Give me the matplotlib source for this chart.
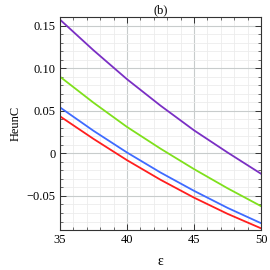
import matplotlib
matplotlib.use("Agg")
import matplotlib.pyplot as plt
from matplotlib.ticker import MultipleLocator, FixedLocator, FixedFormatter

# 読み取った値
eps = [35, 37.5, 40, 42.5, 45, 47.5, 50]
purple = [0.157, 0.121, 0.087, 0.056, 0.027, 0.001, -0.024]
green = [0.090, 0.0595, 0.031, 0.0055, -0.0185, -0.041, -0.062]
blue = [0.054, 0.0265, 0.001, -0.0225, -0.044, -0.064, -0.082]
red = [0.0435, 0.0170, -0.008, -0.031, -0.052, -0.071, -0.088]

yticks = [-0.05, 0, 0.05, 0.10, 0.15]
yticklabels = ["\u22120.05", "0", "0.05", "0.10", "0.15"]
xticks = [35, 40, 45, 50]

plt.rcParams['font.family'] = ['Liberation Serif', 'DejaVu Serif']
plt.rcParams['font.size'] = 9

fig = plt.figure(figsize=(2.7, 2.7), dpi=100)
ax = fig.add_axes([0.222, 0.148, 0.745, 0.789])

ax.plot(eps, purple, color='#7a2fc4', lw=1.3)
ax.plot(eps, green, color='#7fe01c', lw=1.3)
ax.plot(eps, blue, color='#3f6bff', lw=1.3)
ax.plot(eps, red, color='#ff1e1e', lw=1.3)

ax.set_xlim(35, 50)
ax.set_ylim(-0.09, 0.16)

ax.xaxis.set_major_locator(FixedLocator(xticks))
ax.xaxis.set_minor_locator(MultipleLocator(1))
ax.yaxis.set_major_locator(FixedLocator(yticks))
ax.yaxis.set_major_formatter(FixedFormatter(yticklabels))
ax.yaxis.set_minor_locator(MultipleLocator(0.01))

ax.grid(which='major', color='#c8cccc', lw=0.8)
ax.grid(which='minor', color='#ececec', lw=0.6)
ax.set_axisbelow(True)

ax.tick_params(which='both', direction='in', top=True, right=True,
               color='#333333', labelsize=9, pad=3)
ax.tick_params(which='major', length=4, width=0.7)
ax.tick_params(which='minor', length=2, width=0.5)
for s in ax.spines.values():
    s.set_color('#333333')
    s.set_linewidth(0.8)

ax.set_xlabel("\u03b5", fontsize=10, labelpad=6)
ax.set_ylabel("HeunC", fontsize=9, labelpad=4)
ax.set_title("(b)", fontsize=9, pad=3)

fig.savefig("out.png", dpi=100)
